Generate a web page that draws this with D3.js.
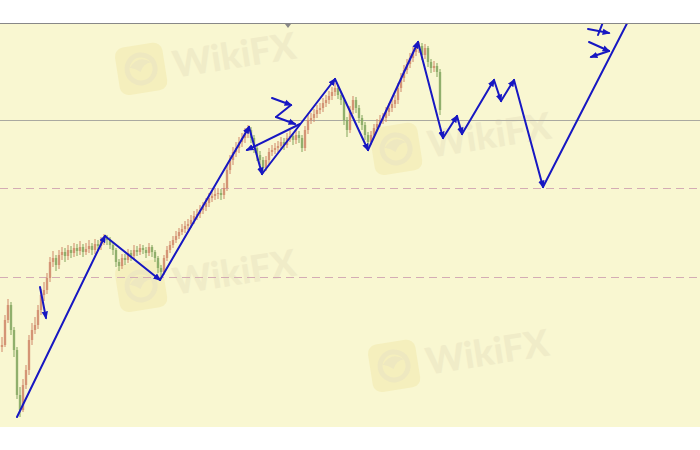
<!DOCTYPE html>
<html><head><meta charset="utf-8">
<script src="https://cdn.jsdelivr.net/npm/d3@7"></script>
<style>html,body{margin:0;padding:0;background:#fff;}svg{display:block}</style>
</head><body><svg id="c" width="700" height="450"></svg>
<script>
// ---- data (price units) ----
const firstOpen = 80;
const closes = [82,107,122,97,77,32,17,42,57,87,97,102,117,132,137,149,165,169,162,172,175,171,177,174,179,176,180,175,178,181,177,183,181,186,189,187,182,177,165,161,169,167,174,171,177,175,179,177,174,180,175,169,159,155,169,177,182,187,191,195,198,201,203,207,211,213,217,220,224,229,231,233,234,232,239,257,267,275,279,285,289,294,297,289,279,272,267,259,267,275,277,279,281,285,282,289,291,287,292,289,279,297,307,309,313,317,319,324,327,331,335,339,332,327,307,297,317,327,319,309,302,292,285,292,299,303,307,309,315,319,323,327,339,349,357,363,369,375,379,381,372,379,365,359,361,355,317];
const highs = [90,112,128,125,100,80,40,48,62,92,104,110,122,138,145,154,170,176,172,177,180,179,182,181,184,183,186,183,184,187,184,188,187,190,193,192,190,185,179,168,173,173,178,177,182,181,183,182,180,184,182,177,171,162,172,181,186,191,196,199,203,206,208,212,216,218,222,225,229,234,236,238,239,238,244,262,272,280,285,290,294,299,302,300,292,283,276,270,271,279,282,284,286,290,289,294,297,294,297,296,292,301,312,314,318,322,324,329,332,336,340,344,342,335,329,310,321,331,330,322,312,305,295,296,303,308,312,314,320,324,328,332,344,354,362,368,374,380,384,385,384,383,381,368,366,364,358];
const lows = [75,80,104,92,70,28,10,15,38,52,82,93,98,112,126,133,145,160,156,158,167,165,167,169,170,171,172,170,172,174,172,173,176,177,182,182,178,172,160,156,158,162,164,166,168,171,172,173,169,171,170,165,154,148,152,166,174,179,184,188,192,194,197,199,203,207,209,213,216,220,225,227,228,227,228,236,253,262,270,274,280,284,289,284,274,266,262,253,256,263,271,273,275,277,277,279,285,282,283,284,275,276,293,303,305,309,313,315,320,323,327,331,328,322,302,290,294,313,314,304,297,287,280,282,289,296,300,303,305,311,315,319,323,335,345,353,359,365,371,374,367,368,360,354,355,350,312];

// zigzag wave: [bar index, price]
const zigzag = [[5.33,10],[34.67,191],[53,147],[82.67,300],[87,253],[111.33,348],[122.33,277],[139,385],[147.33,289],[152,311],[153.67,293],[164.33,347],[166.67,326],[171,347],[180.67,240],[212.67,427]];
// small annotation arrows
const arrowA = [[13,140],[15,109]];
const arrowB = [[99.67,303],[82,277]];
const arrowZ1 = [[90.33,329],[96.67,322]];
const zLink = [[96.67,322],[91.67,310]];
const arrowZ2 = [[91.67,310],[98,303]];
const arrowC = [[195.67,398],[202.67,394]];
const crossC = [[200.67,405],[199,392]];
const arrowD1 = [[196,385],[202.67,376]];
const arrowD2 = [[202.67,376],[196.67,370]];

const solidLevels = [307];
const dashedLevels = [239,150];

// ---- layout ----
const W = 700, H = 450, panelTop = 23, panelBottom = 427;
const blue = '#1717c2';
const svg = d3.select('#c');
const x = d3.scaleLinear().domain([0,233]).range([1,700]);
const y = d3.scaleLinear().domain([0,404]).range([panelBottom, panelTop]);

svg.append('rect').attr('x',0).attr('y',0).attr('width',W).attr('height',H).attr('fill','#fff');
svg.append('rect').attr('x',0).attr('y',panelTop).attr('width',W).attr('height',panelBottom-panelTop).attr('fill','#f9f7d1');

const defs = svg.append('defs');
defs.append('clipPath').attr('id','clip').append('rect').attr('x',0).attr('y',panelTop).attr('width',W).attr('height',panelBottom-panelTop);
defs.append('marker').attr('id','ah').attr('viewBox','0 0 10 10').attr('refX',8).attr('refY',5)
  .attr('markerWidth',8).attr('markerHeight',8).attr('markerUnits','userSpaceOnUse').attr('orient','auto')
  .append('path').attr('d','M0,1 L10,5 L0,9 Z').attr('fill',blue);

// watermarks
const wm = svg.append('g').attr('clip-path','url(#clip)');
const wmPos = [[113,45],[368,125],[113,262],[366,342]];
wmPos.forEach(([wx,wy])=>{
  const g = wm.append('g').attr('transform',`translate(${wx},${wy}) rotate(-9)`);
  g.append('rect').attr('x',0).attr('y',4).attr('width',48).attr('height',48).attr('rx',9)
    .attr('fill','#f5efbd');
  g.append('circle').attr('cx',24).attr('cy',28).attr('r',14).attr('fill','none')
    .attr('stroke','#eee8c0').attr('stroke-width',5);
  g.append('path').attr('d','M13,25 Q24,13 35,23 Q27,23 23,31 Q19,27 13,25 Z').attr('fill','#eee8c0');
  g.append('text').attr('x',56).attr('y',42).text('WikiFX')
    .attr('font-family','Lato, "Open Sans", sans-serif').attr('font-weight',900).attr('font-size',37)
    .attr('fill','#f0ecc8');
});

const plot = svg.append('g').attr('clip-path','url(#clip)');

// level lines
solidLevels.forEach(p=>plot.append('line').attr('x1',0).attr('x2',W).attr('y1',Math.round(y(p))+0.5).attr('y2',Math.round(y(p))+0.5)
  .attr('stroke','#aaa9a0').attr('stroke-width',1));
dashedLevels.forEach(p=>plot.append('line').attr('x1',0).attr('x2',W).attr('y1',Math.round(y(p))+0.5).attr('y2',Math.round(y(p))+0.5)
  .attr('stroke','#d4acb4').attr('stroke-width',1).attr('stroke-dasharray','8,5'));

// candles
const candles = closes.map((c,i)=>({i, o: i===0?firstOpen:closes[i-1], c, h: highs[i], l: lows[i]}));
const up = '#d08a6c', dn = '#85a862';
const cg = plot.append('g');
cg.selectAll('line.w').data(candles).join('line').attr('class','w')
  .attr('x1',d=>x(d.i)+1).attr('x2',d=>x(d.i)+1)
  .attr('y1',d=>y(d.h)).attr('y2',d=>y(d.l))
  .attr('stroke',d=>d.c>=d.o?up:dn).attr('stroke-width',1.2).attr('opacity',0.85);
cg.selectAll('rect.b').data(candles).join('rect').attr('class','b')
  .attr('x',d=>x(d.i)-0.2).attr('width',2.4)
  .attr('y',d=>y(Math.max(d.o,d.c))).attr('height',d=>Math.max(1,Math.abs(y(d.o)-y(d.c))))
  .attr('fill',d=>d.c>=d.o?up:dn).attr('opacity',0.8);

// zigzag: each leg ends with an arrowhead
const line = d3.line().x(d=>x(d[0])).y(d=>y(d[1]));
d3.pairs(zigzag).forEach(seg=>plot.append('path').attr('d',line(seg)).attr('fill','none')
  .attr('stroke',blue).attr('stroke-width',2).attr('stroke-linecap','round').attr('marker-end','url(#ah)'));

[arrowA,arrowB,arrowZ1,arrowZ2,arrowC,arrowD1,arrowD2].forEach(a=>plot.append('path').attr('d',line(a)).attr('fill','none')
  .attr('stroke',blue).attr('stroke-width',2).attr('stroke-linecap','round').attr('marker-end','url(#ah)'));
[zLink,crossC].forEach(a=>plot.append('path').attr('d',line(a)).attr('fill','none')
  .attr('stroke',blue).attr('stroke-width',2).attr('stroke-linecap','round'));

// top border & marker
svg.append('line').attr('x1',0).attr('x2',W).attr('y1',panelTop+0.5).attr('y2',panelTop+0.5).attr('stroke','#888').attr('stroke-width',1.2);
svg.append('path').attr('d',`M285,${panelTop+1} L291,${panelTop+1} L288,${panelTop+5} Z`).attr('fill','#888');
</script></body></html>
